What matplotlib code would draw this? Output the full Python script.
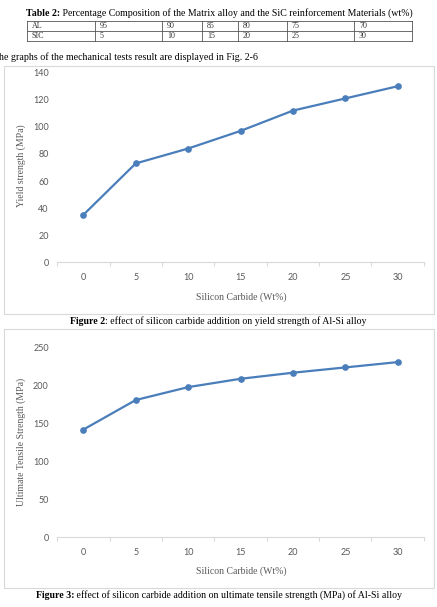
import matplotlib
matplotlib.use("Agg")
import matplotlib.pyplot as plt
from matplotlib.patches import Rectangle
from matplotlib.lines import Line2D

# ---------------- data ----------------
table_rows = ["AL", "SIC"]
al_values = [95, 90, 85, 80, 75, 70]
sic_values = [5, 10, 15, 20, 25, 30]

sic_wt = [0, 5, 10, 15, 20, 25, 30]
yield_strength = [35, 73, 84, 97, 112, 121, 130]
uts = [142, 181, 198, 209, 217, 224, 231]

# ---------------- layout ----------------
W, H = 437, 607
fig = plt.figure(figsize=(W / 100, H / 100), dpi=100)
fig.patch.set_facecolor("white")

SERIF = ["Liberation Serif", "DejaVu Serif"]
SANS = ["Lato", "DejaVu Sans"]
GRAY = "#595959"
LINEGRAY = "#d9d9d9"
BLUE = "#4a7ebb"


def fx(x):
    return x / W


def fy(y):
    return 1 - y / H


def rich(x, y, bold, rest, size):
    t = fig.text(fx(x), fy(y), bold, fontsize=size, family=SERIF,
                 fontweight="bold", ha="left", va="center")
    fig.add_artist(plt.Annotation(rest, xy=(1, 0), xycoords=t, fontsize=size,
                                  family=SERIF, ha="left", va="bottom",
                                  annotation_clip=False))


# ---------------- table ----------------
col_edges = [27, 95, 162, 202, 238, 287, 354, 412]
row_edges = [21, 31, 41]
for yy in row_edges:
    fig.add_artist(Line2D([fx(col_edges[0]), fx(col_edges[-1])], [fy(yy), fy(yy)],
                          transform=fig.transFigure, color="#555555", lw=0.6))
for xx in col_edges:
    fig.add_artist(Line2D([fx(xx), fx(xx)], [fy(row_edges[0]), fy(row_edges[-1])],
                          transform=fig.transFigure, color="#555555", lw=0.6))
for r, (name, vals) in enumerate(zip(table_rows, [al_values, sic_values])):
    yc = (row_edges[r] + row_edges[r + 1]) / 2
    cells = [name] + [str(v) for v in vals]
    for c, txt in enumerate(cells):
        fig.text(fx(col_edges[c] + 5), fy(yc), txt, fontsize=5.8, family=SERIF,
                 ha="left", va="center", color="#333333")

rich(26, 14, "Table 2:",
     " Percentage Composition of the Matrix alloy and the SiC reinforcement Materials (wt%)",
     7.1)

fig.text(fx(-1), fy(57), "he graphs of the mechanical tests result are displayed in Fig. 2-6",
         fontsize=7.2, family=SERIF, ha="left", va="center")

# ---------------- frames ----------------
for (y0, y1) in [(66, 314), (329, 588)]:
    fig.add_artist(Rectangle((fx(3.5), fy(y1)), fx(434.5) - fx(3.5), fy(y0) - fy(y1),
                             transform=fig.transFigure, fill=False,
                             edgecolor=LINEGRAY, lw=0.8))


def make_chart(y_zero, y_top, ymax, ystep, values, ylabel, ylabel_y, xlabel_y):
    left, right = 57.1, 423.9
    ax = fig.add_axes([fx(left), fy(y_zero), fx(right) - fx(left), fy(y_top) - fy(y_zero)])
    xs = list(range(len(sic_wt)))
    ax.plot(xs, values, color=BLUE, lw=1.6, marker="o", markersize=3.8,
            markerfacecolor=BLUE, markeredgecolor=BLUE, clip_on=False, zorder=3)
    ax.set_xlim(-0.5, len(sic_wt) - 0.5)
    ax.set_ylim(0, ymax)
    ax.set_yticks(range(0, ymax + 1, ystep))
    ax.set_xticks(xs)
    ax.set_xticklabels([str(v) for v in sic_wt])
    ax.set_xticks([i - 0.5 for i in range(len(sic_wt) + 1)], minor=True)
    for s in ["top", "right", "left"]:
        ax.spines[s].set_visible(False)
    ax.spines["bottom"].set_color(LINEGRAY)
    ax.spines["bottom"].set_linewidth(0.8)
    ax.tick_params(axis="x", which="major", length=0, pad=8, labelsize=6.5,
                   labelcolor=GRAY)
    ax.tick_params(axis="x", which="minor", length=3, width=0.8, color=LINEGRAY,
                   direction="out")
    ax.tick_params(axis="y", length=0, pad=6, labelsize=6.5, labelcolor=GRAY)
    for lab in ax.get_xticklabels() + ax.get_yticklabels():
        lab.set_family(SANS)
    ax.patch.set_alpha(0)
    fig.text(fx(21), fy(ylabel_y), ylabel, rotation=90, fontsize=7, family=SERIF,
             color=GRAY, ha="center", va="center")
    fig.text(fx(241), fy(xlabel_y), "Silicon Carbide (Wt%)", fontsize=7, family=SERIF,
             color=GRAY, ha="center", va="center")
    return ax


make_chart(262.3, 72.7, 140, 20, yield_strength, "Yield strength (MPa)", 166, 297)
make_chart(537.3, 347.7, 250, 50, uts, "Ultimate Tensile Strength (MPa)", 442, 571)

# ---------------- captions ----------------
rich(70, 322, "Figure 2",
     ": effect of silicon carbide addition on yield strength of Al-Si alloy", 7.1)
rich(36, 596, "Figure 3:",
     " effect of silicon carbide addition on ultimate tensile strength (MPa) of Al-Si alloy",
     7.1)

fig.savefig("out.png", dpi=100, facecolor="white")
